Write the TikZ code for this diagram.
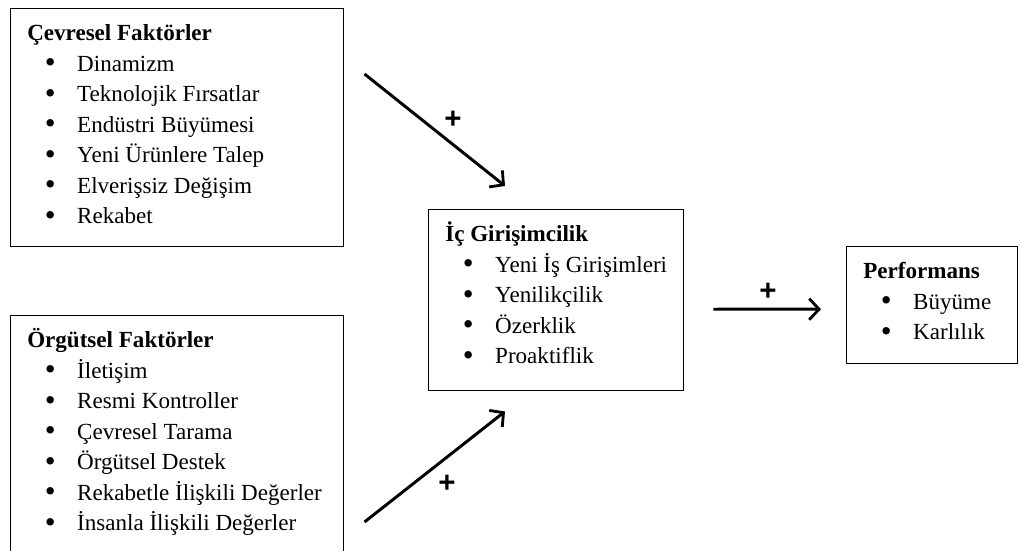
\documentclass[tikz,border=0pt]{standalone}
\usepackage{fontspec}
\setmainfont{Liberation Serif}
\newfontfamily\plusfont{Liberation Sans}
\usetikzlibrary{arrows.meta,positioning,calc}

% one bullet line of a box
\newcommand{\bitem}[1]{\hspace*{12.5pt}\makebox[23pt][l]{\raisebox{-1.2pt}{\fontsize{22}{22}\selectfont\textbullet}}#1\strut}
\newcommand{\btitle}[1]{\textbf{#1}\strut}

\begin{document}
\begin{tikzpicture}[x=0.025cm, y=-0.025cm,
    factorbox/.style={draw, line width=1pt, anchor=north west, inner sep=0pt},
    boxtext/.style={anchor=north west, align=left, inner sep=0pt, font=\fontsize{16.4}{21.7}\selectfont},
    arrow/.style={-{Straight Barb[length=7pt, width=15pt, line width=2pt]}, line width=2.1pt},
    plus/.style={inner sep=0pt, font=\plusfont\bfseries\fontsize{21}{21}\selectfont}
]
\useasboundingbox (0,0) rectangle (1020,551);
\clip (0,0) rectangle (1020,551);

% Boxes
\node[factorbox, minimum width=8.325cm, minimum height=5.95cm] (cevre) at (10,8) {};
\node[factorbox, minimum width=8.325cm, minimum height=6.125cm] (orgut) at (10,315) {};
\node[factorbox, minimum width=6.375cm, minimum height=4.525cm] (icgir) at (428,209) {};
\node[factorbox, minimum width=4.275cm, minimum height=2.925cm] (perf) at (846,246) {};

% Box contents
\node[boxtext] (cevreText) at ($(cevre.north west)+(17,11)$) {
    \btitle{Çevresel Faktörler}\\
    \bitem{Dinamizm}\\
    \bitem{Teknolojik Fırsatlar}\\
    \bitem{Endüstri Büyümesi}\\
    \bitem{Yeni Ürünlere Talep}\\
    \bitem{Elverişsiz Değişim}\\
    \bitem{Rekabet}
};
\node[boxtext] (orgutText) at ($(orgut.north west)+(17,11)$) {
    \btitle{Örgütsel Faktörler}\\
    \bitem{İletişim}\\
    \bitem{Resmi Kontroller}\\
    \bitem{Çevresel Tarama}\\
    \bitem{Örgütsel Destek}\\
    \bitem{Rekabetle İlişkili Değerler}\\
    \bitem{İnsanla İlişkili Değerler}
};
\node[boxtext] (icgirText) at ($(icgir.north west)+(17,11)$) {
    \btitle{İç Girişimcilik}\\
    \bitem{Yeni İş Girişimleri}\\
    \bitem{Yenilikçilik}\\
    \bitem{Özerklik}\\
    \bitem{Proaktiflik}
};
\node[boxtext] (perfText) at ($(perf.north west)+(17,11)$) {
    \btitle{Performans}\\
    \bitem{Büyüme}\\
    \bitem{Karlılık}
};

% Free arrow ends
\coordinate (cevreOut) at ($(cevre.north east)+(20,66)$);
\coordinate (icgirInA) at ($(icgir.north west)+(77,-23)$);
\coordinate (orgutOut) at ($(orgut.north east)+(20,207)$);
\coordinate (icgirInB) at ($(icgir.south west)+(77,20)$);
\coordinate (icgirOut) at ($(icgir.east)+(29,9)$);
\coordinate (perfIn) at ($(perf.west)+(-25,4)$);

% Arrows
\draw[arrow] (cevreOut) -- (icgirInA);
\draw[arrow] (orgutOut) -- (icgirInB);
\draw[arrow] (icgirOut) -- (perfIn);

% Signs
\node[plus] (plusA) at (453,120) {+};
\node[plus] (plusB) at (447,484) {+};
\node[plus] (plusC) at (768,292) {+};

\end{tikzpicture}
\end{document}
